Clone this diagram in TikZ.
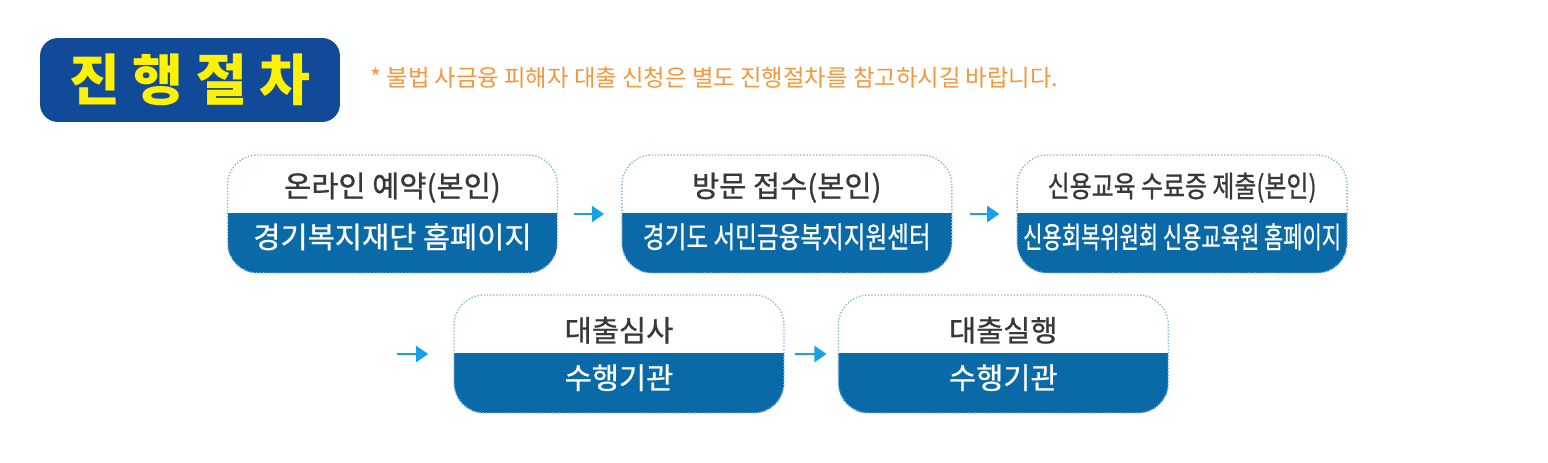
\documentclass[tikz,border=0pt]{standalone}
\usepackage{fontspec, graphicx}
\setmainfont{Noto Sans CJK KR}
\newfontfamily\labelfont{Noto Sans CJK KR}[FakeBold=0.8]
\usetikzlibrary{arrows.meta, positioning}

\definecolor{titleblue}{RGB}{16,74,152}
\definecolor{titleyellow}{RGB}{255,242,0}
\definecolor{noteorange}{RGB}{245,150,60}
\definecolor{boxblue}{RGB}{10,106,168}
\definecolor{lineblue}{RGB}{135,182,225}
\definecolor{arrowblue}{RGB}{25,160,230}
\definecolor{textgray}{RGB}{60,55,55}

\tikzset{
  stepbox/.style={draw=lineblue, densely dotted, line width=0.8pt, fill=white,
    rounded corners=0.6cm, minimum width=6.6cm, minimum height=2.36cm, inner sep=0pt,
    path picture={\fill[boxblue, sharp corners] (path picture bounding box.south west)
      rectangle ([yshift=0.5pt]path picture bounding box.east);}},
  toplabel/.style={text=textgray, inner sep=0pt, font=\labelfont\fontsize{16.8}{20}\selectfont},
  botlabel/.style={text=white, inner sep=0pt, font=\labelfont\fontsize{16.8}{20}\selectfont},
  steparrow/.style={arrowblue, line width=1.7pt, -{Triangle[length=7pt, width=9pt]}}
}

\begin{document}
\begin{tikzpicture}[x=0.02cm, y=-0.02cm]
\useasboundingbox (0,0) rectangle (1548,463);

% title and note
\node (title) at (190,80) [fill=titleblue, rounded corners=0.36cm, minimum width=6cm,
  minimum height=1.68cm, text=titleyellow, font=\fontsize{31.5}{34}\selectfont\bfseries] {진 행 절 차};
\node (note) at (370,78) [anchor=west, inner sep=0pt, text=noteorange,
  font=\fontsize{13.3}{15}\selectfont] {* 불법 사금융 피해자 대출 신청은 별도 진행절차를 참고하시길 바랍니다.};

% first row
\node (online) at (392.5,214) [stepbox] {};
\node (visit) [stepbox, right=1.26cm of online] {};
\node (edu) [stepbox, right=1.28cm of visit] {};

% second row
\node (review) at (619,354) [stepbox] {};
\node (loan) [stepbox, right=1.06cm of review] {};
\coordinate (rowstart) at (397,354);

% labels
\node (online-t) at ([yshift=15pt]online.center) [toplabel] {온라인 예약(본인)};
\node (online-b) at ([yshift=-13pt]online.center) [botlabel] {경기복지재단 홈페이지};
\node (visit-t) at ([yshift=15pt]visit.center) [toplabel] {방문 접수(본인)};
\node (visit-b) at ([yshift=-13pt]visit.center) [botlabel] {\scalebox{0.8}[1]{경기도 서민금융복지지원센터}};
\node (edu-t) at ([yshift=15pt]edu.center) [toplabel] {\scalebox{0.81}[1]{신용교육 수료증 제출(본인)}};
\node (edu-b) at ([yshift=-13pt]edu.center) [botlabel] {\scalebox{0.71}[1]{신용회복위원회 신용교육원 홈페이지}};
\node (review-t) at ([yshift=13.5pt]review.center) [toplabel] {대출심사};
\node (review-b) at ([yshift=-13.5pt]review.center) [botlabel] {수행기관};
\node (loan-t) at ([yshift=13.5pt]loan.center) [toplabel] {대출실행};
\node (loan-b) at ([yshift=-13.5pt]loan.center) [botlabel] {수행기관};

% arrows
\draw [steparrow, shorten <=0.32cm, shorten >=0.34cm] (online.east) -- (visit.west);
\draw [steparrow, shorten <=0.34cm, shorten >=0.34cm] (visit.east) -- (edu.west);
\draw [steparrow, shorten >=0.5cm] (rowstart) -- (review.west);
\draw [steparrow, shorten <=0.2cm, shorten >=0.22cm] (review.east) -- (loan.west);
\end{tikzpicture}
\end{document}
